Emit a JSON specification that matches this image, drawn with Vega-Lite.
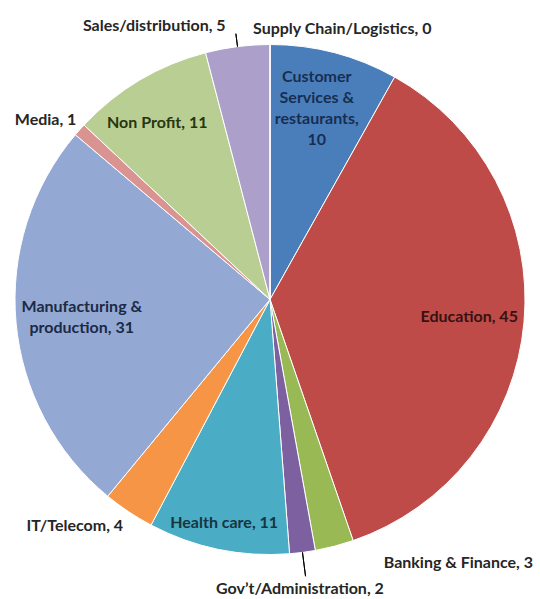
{
  "$schema": "https://vega.github.io/schema/vega-lite/v6.json",
  "width": 540,
  "height": 599,
  "padding": 0,
  "autosize": "none",
  "background": "#ffffff",
  "config": {"view": {"stroke": null}, "text": {"font": "Lato", "fontWeight": "bold", "fontSize": 16, "lineBreak": "\n", "lineHeight": 21}},
  "data": {"values": [
    {"category": "Customer Services & restaurants", "value": 10, "rank": 1, "label": "Customer\nServices &\nrestaurants,\n10"},
    {"category": "Education", "value": 45, "rank": 2, "label": "Education, 45"},
    {"category": "Banking & Finance", "value": 3, "rank": 3, "label": "Banking & Finance, 3"},
    {"category": "Gov’t/Administration", "value": 2, "rank": 4, "label": "Gov’t/Administration, 2"},
    {"category": "Health care", "value": 11, "rank": 5, "label": "Health care, 11"},
    {"category": "IT/Telecom", "value": 4, "rank": 6, "label": "IT/Telecom, 4"},
    {"category": "Manufacturing & production", "value": 31, "rank": 7, "label": "Manufacturing &\nproduction, 31"},
    {"category": "Media", "value": 1, "rank": 8, "label": "Media, 1"},
    {"category": "Non Profit", "value": 11, "rank": 9, "label": "Non Profit, 11"},
    {"category": "Sales/distribution", "value": 5, "rank": 10, "label": "Sales/distribution, 5"},
    {"category": "Supply Chain/Logistics", "value": 0, "rank": 11, "label": "Supply Chain/Logistics, 0"}
  ]},
  "encoding": {
    "theta": {"field": "value", "type": "quantitative", "stack": true},
    "order": {"field": "rank", "type": "quantitative"}
  },
  "layer": [
    {
      "mark": {"type": "arc", "radius": 255, "stroke": "#ffffff", "strokeWidth": 1},
      "encoding": {
        "color": {
          "field": "category", "type": "nominal", "legend": null,
          "scale": {
            "domain": ["Customer Services & restaurants", "Education", "Banking & Finance", "Gov’t/Administration", "Health care", "IT/Telecom", "Manufacturing & production", "Media", "Non Profit", "Sales/distribution", "Supply Chain/Logistics"],
            "range": ["#4A7EBB", "#BE4B48", "#98B954", "#7D60A0", "#4AACC5", "#F69546", "#93A9D4", "#D99491", "#B9CE93", "#AC9FC9", "#B3A2C7"]
          }
        }
      }
    },
    {
      "mark": {"type": "arc", "radius": 268, "radius2": 255, "padAngle": 1.5, "filled": false, "stroke": "#000000", "strokeWidth": 1},
      "encoding": {"strokeOpacity": {"condition": {"test": "datum.category === 'Sales/distribution'", "value": 1}, "value": 0}}
    },
    {
      "mark": {"type": "arc", "radius": 279, "radius2": 255, "padAngle": 1.5, "filled": false, "stroke": "#000000", "strokeWidth": 1},
      "encoding": {"strokeOpacity": {"condition": {"test": "datum.category === 'Gov’t/Administration'", "value": 1}, "value": 0}}
    },
    {
      "mark": {"type": "text", "radius": 197, "dx": -3, "dy": -32, "align": "center", "baseline": "middle", "color": "#172E52"},
      "encoding": {"text": {"condition": {"test": "datum.rank === 1", "field": "label"}, "value": ""}}
    },
    {
      "mark": {"type": "text", "radius": 200, "align": "center", "baseline": "middle", "color": "#3A1110"},
      "encoding": {"text": {"condition": {"test": "datum.rank === 2", "field": "label"}, "value": ""}}
    },
    {
      "mark": {"type": "text", "radius": 272, "dx": 45, "align": "left", "baseline": "middle", "color": "#262626"},
      "encoding": {"text": {"condition": {"test": "datum.rank === 3", "field": "label"}, "value": ""}}
    },
    {
      "mark": {"type": "text", "radius": 290, "dx": -7, "dy": 2, "align": "center", "baseline": "middle", "color": "#262626"},
      "encoding": {"text": {"condition": {"test": "datum.rank === 4", "field": "label"}, "value": ""}}
    },
    {
      "mark": {"type": "text", "radius": 226, "dy": 2, "align": "center", "baseline": "middle", "color": "#173540"},
      "encoding": {"text": {"condition": {"test": "datum.rank === 5", "field": "label"}, "value": ""}}
    },
    {
      "mark": {"type": "text", "radius": 265, "dy": 6, "align": "right", "baseline": "middle", "color": "#262626"},
      "encoding": {"text": {"condition": {"test": "datum.rank === 6", "field": "label"}, "value": ""}}
    },
    {
      "mark": {"type": "text", "radius": 189, "dy": -9, "align": "center", "baseline": "middle", "color": "#1C2A45"},
      "encoding": {"text": {"condition": {"test": "datum.rank === 7", "field": "label"}, "value": ""}}
    },
    {
      "mark": {"type": "text", "radius": 262, "dx": 2, "dy": -5, "align": "right", "baseline": "middle", "color": "#262626"},
      "encoding": {"text": {"condition": {"test": "datum.rank === 8", "field": "label"}, "value": ""}}
    },
    {
      "mark": {"type": "text", "radius": 205, "dx": -8, "align": "center", "baseline": "middle", "color": "#28360F"},
      "encoding": {"text": {"condition": {"test": "datum.rank === 9", "field": "label"}, "value": ""}}
    },
    {
      "mark": {"type": "text", "radius": 270, "dx": -10, "dy": -6, "align": "right", "baseline": "middle", "color": "#262626"},
      "encoding": {"text": {"condition": {"test": "datum.rank === 10", "field": "label"}, "value": ""}}
    },
    {
      "mark": {"type": "text", "radius": 271, "dx": -17, "align": "left", "baseline": "middle", "color": "#262626"},
      "encoding": {"text": {"condition": {"test": "datum.rank === 11", "field": "label"}, "value": ""}}
    }
  ]
}
